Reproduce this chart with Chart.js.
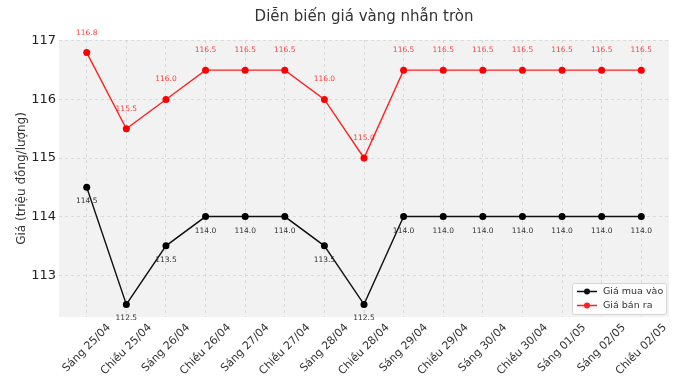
<!DOCTYPE html>
<html><head><meta charset="utf-8">
<script src="https://cdn.jsdelivr.net/npm/chart.js@4.4.0/dist/chart.umd.min.js"></script>
<style>html,body{margin:0;padding:0;background:#fff}#wrap{width:678px;height:381px}</style>
</head><body><div id="wrap"><canvas id="c" width="678" height="381"></canvas></div>
<script>
const categories = ["Sáng 25/04","Chiều 25/04","Sáng 26/04","Chiều 26/04","Sáng 27/04","Chiều 27/04","Sáng 28/04","Chiều 28/04","Sáng 29/04","Chiều 29/04","Sáng 30/04","Chiều 30/04","Sáng 01/05","Sáng 02/05","Chiều 02/05"];
const buyPrices = [114.5,112.5,113.5,114.0,114.0,114.0,113.5,112.5,114.0,114.0,114.0,114.0,114.0,114.0,114.0];
const sellPrices = [116.8,115.5,116.0,116.5,116.5,116.5,116.0,115.0,116.5,116.5,116.5,116.5,116.5,116.5,116.5];
const yTicks = [113,114,115,116,117];
const titleText = "Diễn biến giá vàng nhẫn tròn";
const yTitle = "Giá (triệu đồng/lượng)";
const seriesNames = ["Giá mua vào","Giá bán ra"];

const FONT = "'DejaVu Sans', sans-serif";

const bgPlugin = {
  id:'bg',
  beforeDraw(chart){
    const {ctx, chartArea:a} = chart;
    ctx.save(); ctx.fillStyle='#f2f2f2';
    ctx.fillRect(a.left,a.top,a.right-a.left,a.bottom-a.top);
    ctx.restore();
  },
  afterDraw(chart){
    const {ctx, chartArea:a} = chart;
    ctx.save();
    ctx.fillStyle='#333'; ctx.font="15px "+FONT; ctx.textAlign='center'; ctx.textBaseline='middle';
    ctx.fillText(titleText,(a.left+a.right)/2,17);
    ctx.translate(22,(a.top+a.bottom)/2); ctx.rotate(-Math.PI/2);
    ctx.font="12px "+FONT; ctx.fillStyle='#333';
    ctx.fillText(yTitle,0,0);
    ctx.restore();
    // x tick labels, rotated 45deg, centred on tick
    ctx.save();
    const xs = chart.scales.x;
    ctx.font="11px "+FONT; ctx.fillStyle='#333'; ctx.textAlign='center'; ctx.textBaseline='middle';
    const c45 = Math.SQRT1_2, th = 11;
    categories.forEach((lab,i)=>{
      const px = xs.getPixelForValue(i);
      const w = ctx.measureText(lab).width;
      const bh = (w+th)*c45;
      const cy = a.bottom + 5 + bh/2;
      ctx.save(); ctx.translate(px,cy); ctx.rotate(-Math.PI/4); ctx.fillText(lab,0,0); ctx.restore();
    });
    ctx.restore();
    // data labels
    ctx.save();
    ctx.font="7.5px "+FONT; ctx.textAlign='center'; ctx.textBaseline='middle';
    chart.data.datasets.forEach((ds,di)=>{
      const meta = chart.getDatasetMeta(di);
      meta.data.forEach((pt,i)=>{
        const v = ds.data[i].y;
        if(di===1){ ctx.fillStyle='rgba(255,0,0,0.75)'; ctx.fillText(v.toFixed(1),pt.x,pt.y-20); }
        else { ctx.fillStyle='#333'; ctx.fillText(v.toFixed(1),pt.x,pt.y+14); }
      });
    });
    ctx.restore();
    // legend
    ctx.save();
    const lx=572, ly=283, lw=94, lh=31;
    ctx.fillStyle='rgba(255,255,255,0.85)'; ctx.strokeStyle='#d5d5d5'; ctx.lineWidth=1;
    ctx.beginPath(); ctx.roundRect(lx+0.5,ly+0.5,lw,lh,2); ctx.fill(); ctx.stroke();
    ctx.font="9.5px "+FONT; ctx.textAlign='left'; ctx.textBaseline='middle';
    chart.data.datasets.forEach((ds,di)=>{
      const yy = ly+8.5+di*14;
      ctx.strokeStyle=ds.borderColor; ctx.lineWidth=1.5;
      ctx.beginPath(); ctx.moveTo(lx+5,yy); ctx.lineTo(lx+25,yy); ctx.stroke();
      ctx.fillStyle=ds.borderColor; ctx.beginPath(); ctx.arc(lx+15,yy,3,0,Math.PI*2); ctx.fill();
      ctx.fillStyle='#333'; ctx.fillText(ds.label,lx+31,yy);
    });
    ctx.restore();
  }
};

const mk = arr => arr.map((v,i)=>({x:i,y:v}));

new Chart(document.getElementById('c'),{
  type:'line',
  data:{datasets:[
    {label:seriesNames[0],data:mk(buyPrices),borderColor:'#111',backgroundColor:'#111',borderWidth:1.4,pointRadius:3.5,pointBackgroundColor:'#000',pointBorderWidth:0,tension:0},
    {label:seriesNames[1],data:mk(sellPrices),borderColor:'#ff2020',backgroundColor:'#ff2020',borderWidth:1.4,pointRadius:3.5,pointBackgroundColor:'#ff0000',pointBorderWidth:0,tension:0}
  ]},
  options:{
    responsive:false, animation:false,
    layout:{padding:{top:40,right:9,left:0,bottom:0}},
    plugins:{legend:{display:false},title:{display:false},tooltip:{enabled:false}},
    scales:{
      x:{type:'linear',min:-0.7,max:categories.length-1+0.7,
        afterBuildTicks(s){ s.ticks = categories.map((_,i)=>({value:i})); },
        afterFit(s){ s.height=64; },
        border:{display:false,dash:[3,3]},
        grid:{color:'rgba(205,205,205,0.85)',lineWidth:0.8,drawTicks:false},
        ticks:{display:false,autoSkip:false,callback:(v)=>categories[v]}
      },
      y:{min:112.285,max:117.015,
        afterBuildTicks(s){ s.ticks = yTicks.map(v=>({value:v})); },
        afterFit(s){ s.width=59; },
        border:{display:false,dash:[3,3]},
        grid:{color:'rgba(205,205,205,0.85)',lineWidth:0.8,drawTicks:false},
        ticks:{padding:3,color:'#222',font:{family:FONT,size:13},callback:v=>String(v)}
      }
    }
  },
  plugins:[bgPlugin]
});
</script></body></html>
